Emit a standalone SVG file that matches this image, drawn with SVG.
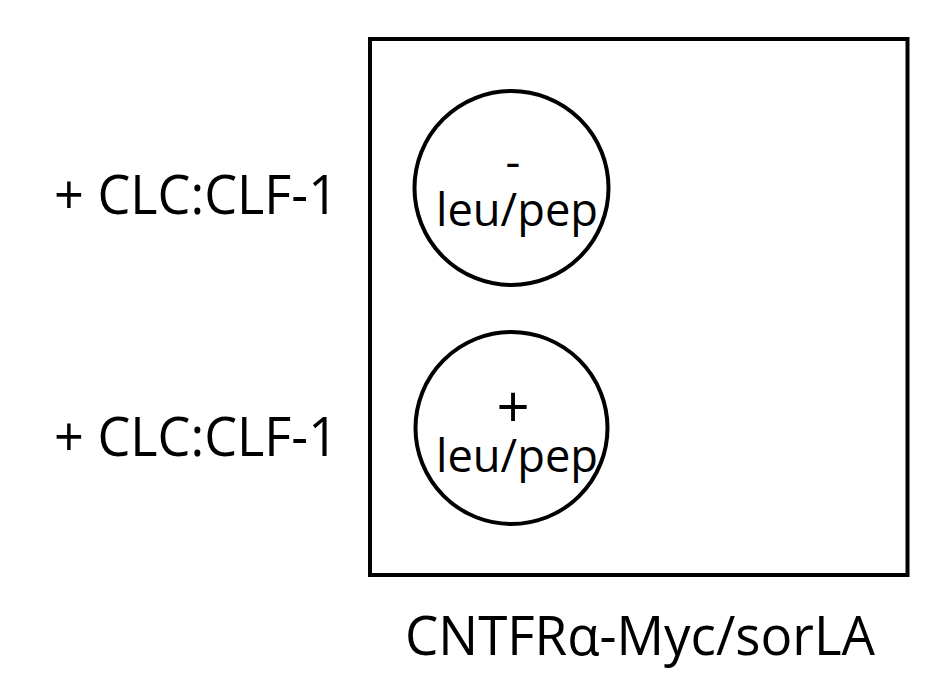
<svg xmlns="http://www.w3.org/2000/svg" width="936" height="684" viewBox="0 0 936 684">
<style>
.t{font-family:"Open Sans","Noto Sans","Liberation Sans",sans-serif;fill:#000}
.lab{font-size:55px}
.in{font-size:46px}
.sh{fill:none;stroke:#000;stroke-width:4}
</style>
<rect width="936" height="684" fill="#fff"/>
<g id="panel"><rect class="sh" x="370" y="39" width="537.5" height="536"/></g>
<g id="circle-minus">
<circle class="sh" cx="511.5" cy="188" r="97" stroke-width="3.5"/>
<text class="t in" x="513" y="178" text-anchor="middle">-</text>
<text class="t in" x="517" y="226" text-anchor="middle" textLength="162" lengthAdjust="spacingAndGlyphs">leu/pep</text>
</g>
<g id="circle-plus">
<circle class="sh" cx="511.5" cy="428" r="96" stroke-width="3.5"/>
<text class="t" style="font-size:58px" x="513" y="428" text-anchor="middle">+</text>
<text class="t in" x="517" y="472" text-anchor="middle" textLength="162" lengthAdjust="spacingAndGlyphs">leu/pep</text>
</g>
<g id="label-top"><text class="t lab" x="54" y="214" textLength="284" lengthAdjust="spacingAndGlyphs">+ CLC:CLF-1</text></g>
<g id="label-bottom"><text class="t lab" x="54" y="456" textLength="284" lengthAdjust="spacingAndGlyphs">+ CLC:CLF-1</text></g>
<g id="caption"><text class="t lab" x="405" y="655" textLength="470" lengthAdjust="spacingAndGlyphs">CNTFRα-Myc/sorLA</text></g>
<g id="connectors"/>
</svg>
